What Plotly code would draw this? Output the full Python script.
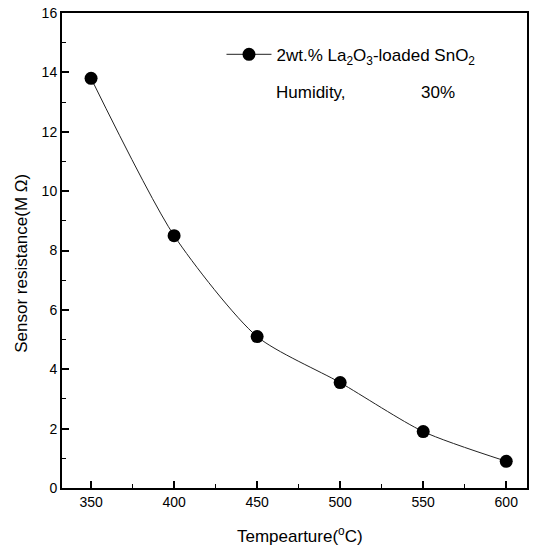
import plotly.graph_objects as go

temps = [350, 400, 450, 500, 550, 600]
resistance = [13.8, 8.5, 5.1, 3.55, 1.9, 0.9]
x_ticks = [350, 400, 450, 500, 550, 600]
x_minor = [375, 425, 475, 525, 575]
y_ticks = [0, 2, 4, 6, 8, 10, 12, 14, 16]
y_minor = [1, 3, 5, 7, 9, 11, 13, 15]

font = "Liberation Sans, Arial, sans-serif"

fig = go.Figure()
fig.add_trace(go.Scatter(
    x=temps, y=resistance, mode="lines+markers",
    line=dict(color="#222", width=1, shape="spline", smoothing=0.7),
    marker=dict(color="black", size=13),
    name="2wt.% La<sub>2</sub>O<sub>3</sub>-loaded SnO<sub>2</sub>",
))

axis_common = dict(
    showline=True, linecolor="black", linewidth=2, mirror=True,
    ticks="inside", ticklen=7, tickwidth=1.5, tickcolor="black",
    showgrid=False, zeroline=False,
    tickfont=dict(family=font, size=14, color="black"),
)

fig.update_xaxes(range=[332.5, 612.5], tickvals=x_ticks,
                 minor=dict(ticks="inside", ticklen=4, tickwidth=1.2, tickcolor="black", tickvals=x_minor),
                 **axis_common)
fig.update_yaxes(range=[0, 16], tickvals=y_ticks,
                 minor=dict(ticks="inside", ticklen=4, tickwidth=1.2, tickcolor="black", tickvals=y_minor),
                 **axis_common)

tfont = dict(family=font, size=17, color="black")
# axis titles
fig.add_annotation(x=0.511, y=-0.098, xref="paper", yref="paper", text="Tempearture(<sup>o</sup>C)",
                   showarrow=False, xanchor="center", yanchor="middle", font=tfont)
fig.add_annotation(x=-0.086, y=0.472, xref="paper", yref="paper", text="Sensor resistance(M Ω)",
                   showarrow=False, textangle=-90, xanchor="center", yanchor="middle", font=tfont)

fig.add_annotation(x=0.456, y=0.833, xref="paper", yref="paper", text="Humidity,",
                   showarrow=False, xanchor="left", yanchor="middle", font=tfont)
fig.add_annotation(x=0.767, y=0.833, xref="paper", yref="paper", text="30%",
                   showarrow=False, xanchor="left", yanchor="middle", font=tfont)

fig.update_layout(
    width=534, height=548,
    margin=dict(l=62, r=5, t=10, b=60),
    plot_bgcolor="white", paper_bgcolor="white",
    showlegend=True,
    legend=dict(x=0.343, y=0.95, xanchor="left", yanchor="top",
                bgcolor="rgba(0,0,0,0)", font=tfont, itemwidth=45),
)

fig.write_html("out.html")
